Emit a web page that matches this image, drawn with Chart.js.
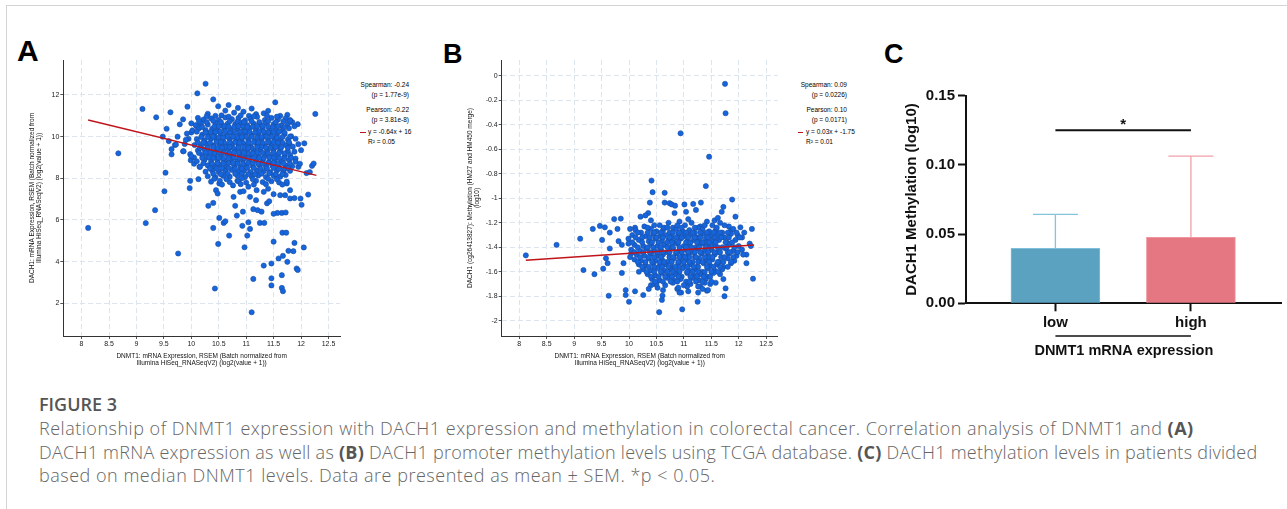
<!DOCTYPE html>
<html>
<head>
<meta charset="utf-8">
<script src="https://cdn.jsdelivr.net/npm/chart.js@4.4.1/dist/chart.umd.min.js"></script>
<style>
html, body { margin: 0; padding: 0; background: #fff; }
body { width: 1287px; height: 509px; position: relative; overflow: hidden; font-family: "Liberation Sans", Arial, sans-serif; }
#frame { position: absolute; left: 6px; top: 5px; width: 1400px; height: 600px; border: 1.5px solid #d4d4d4; }
canvas { position: absolute; }
.lbl { position: absolute; font-weight: bold; color: #000; }
.st { position: absolute; font-size: 6.5px; color: #000; white-space: nowrap; line-height: 1; transform: translateY(-50%); }
.st.r { transform: translate(-100%, -50%); }
.dash { position: absolute; height: 1.3px; background: #c0141b; }
.cap { position: absolute; left: 39px; font-family: "Open Sans", sans-serif; white-space: nowrap; font-size: 18px; line-height: 23.5px; }
.cap span { display: block; }
.cap b { font-weight: 700; color: #555; }
</style>
</head>
<body>
<div id="frame"></div>

<div class="lbl" style="left:17px;top:36px;font-size:30px;line-height:30px;">A</div>
<div class="lbl" style="left:443px;top:40.5px;font-size:27px;line-height:27px;">B</div>
<div class="lbl" style="left:884px;top:40.5px;font-size:27px;line-height:27px;">C</div>

<canvas id="chartA" width="350" height="325" style="left:0px;top:50px;"></canvas>
<canvas id="chartB" width="350" height="325" style="left:440px;top:50px;"></canvas>
<canvas id="chartC" width="407" height="310" style="left:880px;top:60px;"></canvas>

<!-- stats, panel A -->
<div class="st r" style="left:409px;top:85px;">Spearman: -0.24</div>
<div class="st r" style="left:409px;top:95px;">(p = 1.77e-9)</div>
<div class="st r" style="left:409px;top:110px;">Pearson: -0.22</div>
<div class="st r" style="left:409px;top:120px;">(p = 3.81e-8)</div>
<div class="dash" style="left:360px;top:131.5px;width:6px;"></div>
<div class="st" style="left:368px;top:132px;">y = -0.64x + 16</div>
<div class="st" style="left:368px;top:142px;">R² = 0.05</div>

<!-- stats, panel B -->
<div class="st r" style="left:847px;top:85px;">Spearman: 0.09</div>
<div class="st r" style="left:847px;top:95px;">(p = 0.0226)</div>
<div class="st r" style="left:847px;top:110px;">Pearson: 0.10</div>
<div class="st r" style="left:847px;top:120px;">(p = 0.0171)</div>
<div class="dash" style="left:798px;top:131.5px;width:5px;"></div>
<div class="st" style="left:806px;top:132px;">y = 0.03x + -1.75</div>
<div class="st" style="left:806px;top:142px;">R² = 0.01</div>

<div class="cap" style="top:392.6px;font-weight:600;color:#555;">FIGURE 3</div>
<div class="cap" style="top:417px;color:#666;font-weight:300;">
<span style="letter-spacing:0.51px;">Relationship of DNMT1 expression with DACH1 expression and methylation in colorectal cancer. Correlation analysis of DNMT1 and <b>(A)</b></span>
<span style="letter-spacing:0.25px;">DACH1 mRNA expression as well as <b>(B)</b> DACH1 promoter methylation levels using TCGA database. <b>(C)</b> DACH1 methylation levels in patients divided</span>
<span style="letter-spacing:0.52px;">based on median DNMT1 levels. Data are presented as mean ± SEM. *p &lt; 0.05.</span>
</div>

<script>
/* ==========================
   DATA
========================== */
const xTicks = [8, 8.5, 9, 9.5, 10, 10.5, 11, 11.5, 12, 12.5];
const aYTicks = [2, 4, 6, 8, 10, 12];
const bYTicks = [0, -0.2, -0.4, -0.6, -0.8, -1, -1.2, -1.4, -1.6, -1.8, -2];

// panel A: DNMT1 (x) vs DACH1 mRNA (y)
const pointsA = [
  [8.12,5.62],[8.67,9.2],[9.11,11.33],[9.17,5.85],[9.36,10.93],[9.34,6.47],[9.48,10.0],[9.51,7.38],[9.53,8.27],[9.55,10.38],
  [9.62,11.17],[9.59,9.79],[9.64,9.4],[9.64,9.15],[9.76,4.39],[9.79,10.59],[9.85,10.83],[9.93,11.44],[9.98,9.16],[9.99,8.87],
  [9.98,7.88],[9.97,7.53],[10.0,10.64],[10.11,12.08],[10.13,7.96],[10.26,12.54],[10.31,6.68],[10.40,11.79],[10.40,6.82],[10.40,5.62],
  [10.43,2.71],[10.49,4.85],[10.51,6.1],[10.59,5.86],[10.62,5.94],[10.69,5.25],[10.51,7.75],[10.49,11.46],[10.68,11.52],[10.80,6.68],
  [10.83,6.21],[10.93,5.72],[10.97,4.69],[11.04,5.89],[11.07,5.57],[11.02,5.25],[11.10,1.57],[11.13,3.17],[11.25,5.86],[11.33,5.86],
  [11.32,3.81],[11.46,3.2],[11.46,2.86],[11.46,3.91],[11.50,4.96],[11.59,4.15],[11.65,3.35],[11.65,2.74],[11.67,2.58],[11.67,4.28],
  [11.66,5.39],[11.73,5.39],[11.75,3.99],[11.77,4.52],[11.88,4.9],[11.86,4.5],[11.92,3.67],[11.94,3.6],[12.05,4.68],[12.01,6.73],
  [11.99,7.03],[12.13,7.22],[12.20,8.6],[12.23,8.71],[12.26,11.09],[11.53,11.65],[11.94,10.6],[12.06,9.68],[11.95,9.64],[11.79,9.64],
  [11.95,8.55],[11.8,7.03],[11.88,7.05],[11.65,6.34],[11.72,6.36],[11.57,6.34],[11.5,6.3],[11.13,6.52],[11.21,6.47],[11.28,6.4],
  [10.94,6.4],[11.38,6.8],[11.42,6.9],[10.89,7.35],[10.95,7.38],[11.04,7.6],[11.19,7.43],[11.32,7.35],[11.4,7.5],[11.5,7.24],
  [11.62,7.19],[11.71,7.19],[11.8,7.43],[11.74,7.75],[11.07,7.11],[11.18,6.95],[10.77,7.11],[10.45,7.43],[10.48,7.27],[10.76,7.66],
  [10.84,7.88],[11.9,8.95],[11.98,8.7],[12.0,9.35],[11.8,10.8],[12.1,8.25],[12.16,8.3],[9.7,9.6],[9.85,9.3],[10.05,9.0],
  [9.95,9.9],[10.0,10.2],[9.75,10.0],[10.1,10.5],[10.15,8.55],[9.88,9.65],[10.05,8.7],
  [10.3,11.1],[10.55,11.02],[10.62,11.25],[10.78,11.15],[10.95,11.2],[11.05,11.0],[11.18,11.08],[11.32,11.12],[11.4,11.24],[11.62,11.0],
  [11.75,11.05],[10.85,11.38],[11.1,11.35],
  [10.12,10.9],[10.22,10.82],[10.36,10.88],[10.5,10.8],[10.62,10.92],[10.74,10.84],[10.86,10.9],[10.98,10.78],[11.08,10.86],[11.2,10.95],
  [11.34,10.8],[11.46,10.9],[11.58,10.82],[11.72,10.88],[11.84,10.7],
  [10.08,10.55],[10.18,10.64],[10.3,10.58],[10.44,10.66],[10.56,10.56],[10.66,10.62],[10.8,10.6],[10.9,10.68],[11.02,10.55],[11.14,10.62],
  [11.26,10.58],[11.36,10.66],[11.5,10.6],[11.64,10.54],[11.76,10.62],[11.88,10.5],
  [10.02,10.3],[10.14,10.4],[10.26,10.32],[10.38,10.38],[10.48,10.3],[10.6,10.4],[10.72,10.34],[10.84,10.38],[10.96,10.3],[11.06,10.4],
  [11.18,10.34],[11.3,10.4],[11.42,10.3],[11.54,10.36],[11.66,10.3],[11.78,10.4],
  [9.92,10.15],[10.2,10.1],[10.32,10.16],[10.42,10.06],[10.54,10.12],[10.64,10.04],[10.76,10.14],[10.88,10.08],[10.98,10.16],[11.1,10.06],
  [11.22,10.12],[11.34,10.04],[11.44,10.14],[11.56,10.08],[11.7,10.12],[11.82,10.02],
  [9.9,9.85],[10.1,9.88],[10.24,9.82],[10.36,9.9],[10.46,9.84],[10.58,9.8],[10.7,9.88],[10.82,9.82],[10.92,9.9],[11.04,9.84],
  [11.16,9.8],[11.28,9.88],[11.4,9.82],[11.52,9.9],[11.62,9.84],[11.76,9.86],[11.9,9.9],
  [9.72,9.62],[10.06,9.6],[10.18,9.56],[10.28,9.64],[10.4,9.58],[10.52,9.62],[10.64,9.56],[10.74,9.64],[10.86,9.58],[10.98,9.6],
  [11.08,9.54],[11.2,9.62],[11.32,9.58],[11.46,9.64],[11.58,9.56],[11.72,9.6],[11.85,9.52],
  [9.86,9.3],[10.12,9.34],[10.24,9.38],[10.34,9.3],[10.46,9.36],[10.58,9.32],[10.68,9.4],[10.8,9.34],[10.92,9.3],[11.02,9.38],
  [11.14,9.32],[11.26,9.36],[11.38,9.3],[11.5,9.38],[11.62,9.34],[11.76,9.3],[11.88,9.28],
  [10.0,9.06],[10.2,9.12],[10.3,9.04],[10.42,9.1],[10.54,9.06],[10.66,9.14],[10.76,9.08],[10.88,9.12],[10.98,9.04],[11.1,9.1],
  [11.22,9.06],[11.34,9.12],[11.44,9.04],[11.56,9.1],[11.7,9.06],[11.8,9.12],
  [10.1,8.82],[10.24,8.88],[10.36,8.8],[10.48,8.86],[10.6,8.84],[10.72,8.9],[10.84,8.82],[10.94,8.86],[11.06,8.8],[11.18,8.88],
  [11.3,8.84],[11.42,8.78],[11.52,8.86],[11.64,8.82],[11.78,8.88],[11.9,8.8],
  [10.16,8.56],[10.3,8.62],[10.42,8.58],[10.52,8.64],[10.64,8.56],[10.78,8.6],[10.9,8.54],[11.0,8.62],[11.12,8.58],[11.24,8.64],
  [11.36,8.56],[11.48,8.6],[11.6,8.54],[11.72,8.62],[11.84,8.58],
  [10.26,8.32],[10.38,8.38],[10.5,8.3],[10.62,8.36],[10.74,8.4],[10.86,8.32],[10.96,8.36],[11.08,8.3],[11.2,8.38],[11.32,8.34],
  [11.44,8.3],[11.56,8.38],[11.68,8.32],[11.8,8.36],
  [10.3,8.1],[10.44,8.06],[10.58,8.12],[10.7,8.08],[10.84,8.14],[10.98,8.06],[11.1,8.1],[11.22,8.14],[11.36,8.06],[11.5,8.12],
  [11.62,8.08],[11.72,8.16],
  [10.36,7.84],[10.52,7.88],[10.7,7.82],[10.86,7.86],[11.0,7.8],[11.18,7.88],[11.3,7.82],[11.46,7.86],[11.6,7.8],[11.74,7.84],
  [10.42,10.48],[10.6,10.5],[10.78,10.46],[10.94,10.5],[11.12,10.48],[11.3,10.52],[11.48,10.46],
  [10.35,10.22],[10.52,10.24],[10.7,10.2],[10.9,10.24],[11.06,10.22],[11.24,10.26],[11.4,10.2],[11.6,10.24],
  [10.3,9.98],[10.5,9.96],[10.66,10.0],[10.84,9.96],[11.0,10.0],[11.2,9.96],[11.36,10.0],[11.56,9.96],
  [10.22,9.72],[10.46,9.74],[10.6,9.7],[10.8,9.74],[10.94,9.7],[11.14,9.74],[11.3,9.7],[11.5,9.74],[11.66,9.72],
  [10.3,9.48],[10.48,9.46],[10.62,9.5],[10.76,9.46],[10.96,9.5],[11.1,9.46],[11.28,9.5],[11.44,9.46],[11.64,9.48],
  [10.34,9.22],[10.5,9.24],[10.7,9.2],[10.86,9.24],[11.04,9.2],[11.2,9.24],[11.4,9.2],[11.6,9.22],
  [10.4,8.98],[10.58,8.96],[10.78,9.0],[10.96,8.96],[11.14,9.0],[11.32,8.96],[11.5,9.0],[11.7,8.96],
  [10.48,8.72],[10.68,8.74],[10.84,8.7],[11.04,8.74],[11.22,8.7],[11.4,8.74],[11.58,8.7],
  [10.56,8.48],[10.8,8.46],[11.02,8.5],[11.26,8.46],[11.5,8.5],[11.7,8.46],
  [10.66,8.22],[10.92,8.24],[11.16,8.2],[11.42,8.24],[11.66,8.2],
  [10.28,10.98],[10.44,11.0],[10.68,10.96],[10.9,11.02],[11.14,10.98],[11.38,11.0],[11.56,10.96],
  [10.14,10.74],[10.28,10.7],[10.4,10.76],[10.54,10.7],[10.7,10.74],[10.84,10.72],[10.96,10.7],[11.1,10.74],[11.24,10.7],[11.4,10.74],
  [11.54,10.7],[11.68,10.74],[11.8,10.76],
  [10.2,10.46],[10.5,10.5],[10.68,10.48],[10.86,10.5],[11.02,10.46],[11.2,10.5],[11.4,10.48],[11.58,10.5],[11.7,10.46],
  [10.1,10.24],[10.26,10.2],[10.44,10.22],[10.62,10.26],[10.8,10.2],[10.98,10.24],[11.16,10.2],[11.32,10.24],[11.5,10.22],[11.7,10.2],
  [10.18,9.98],[10.4,10.0],[10.58,9.96],[10.76,10.0],[10.92,9.98],[11.1,10.0],[11.28,9.98],[11.46,10.0],[11.66,9.98],[11.8,10.0],
  [10.12,9.72],[10.34,9.7],[10.54,9.74],[10.7,9.72],[10.88,9.7],[11.04,9.72],[11.22,9.7],[11.4,9.72],[11.58,9.7],[11.78,9.74],
  [10.16,9.46],[10.4,9.5],[10.56,9.48],[10.7,9.5],[10.86,9.48],[11.04,9.46],[11.2,9.5],[11.36,9.48],[11.54,9.5],[11.76,9.46],
  [10.14,9.22],[10.26,9.24],[10.42,9.2],[10.6,9.22],[10.78,9.24],[10.96,9.22],[11.12,9.2],[11.3,9.22],[11.5,9.24],[11.7,9.2],
  [10.2,8.98],[10.32,9.0],[10.5,8.98],[10.68,8.96],[10.88,8.98],[11.04,8.96],[11.24,8.98],[11.42,9.0],[11.6,8.98],[11.82,8.98],
  [10.22,8.72],[10.38,8.7],[10.58,8.72],[10.76,8.74],[10.94,8.7],[11.12,8.72],[11.3,8.7],[11.5,8.74],[11.68,8.72],[11.8,8.7],
  [10.34,8.48],[10.46,8.46],[10.68,8.5],[10.92,8.46],[11.14,8.5],[11.38,8.48],[11.6,8.46],[11.76,8.5],
  [10.4,8.22],[10.54,8.2],[10.8,8.22],[11.04,8.2],[11.28,8.22],[11.54,8.2],
  [10.42,7.98],[10.64,7.96],[10.92,8.0],[11.12,7.96],[11.4,7.98],[11.56,7.96],
  [10.56,7.7],[10.9,7.72],[11.14,7.7],[11.36,7.72],[11.66,7.7]
];
const fitAX = [8.12, 12.28];
const fitAY = [10.8, 8.14];

// panel B: DNMT1 (x) vs DACH1 methylation (y)
const pointsB = [
  [8.12,-1.466],[8.68,-1.38],[9.11,-1.33],[9.17,-1.586],[9.34,-1.25],[9.37,-1.62],[9.47,-1.226],[9.51,-1.34],[9.56,-1.237],[9.53,-1.575],
  [9.58,-1.49],[9.61,-1.53],[9.63,-1.796],[9.65,-1.28],[9.65,-1.41],[9.73,-1.17],[9.79,-1.25],[9.81,-1.35],[9.85,-1.166],[9.87,-1.61],
  [9.87,-1.38],[9.9,-1.53],[9.94,-1.79],[9.94,-1.75],[10.0,-1.845],[10.02,-1.25],[9.99,-1.33],[9.99,-1.37],[10.11,-1.24],[10.11,-1.76],
  [10.21,-1.15],[10.26,-1.79],[10.35,-1.12],[10.38,-1.035],[10.41,-0.855],[10.43,-0.95],[10.40,-1.71],[10.55,-1.93],[10.60,-1.83],[10.61,-1.795],
  [10.65,-0.955],[10.65,-1.035],[10.74,-1.04],[10.78,-1.05],[10.84,-1.06],[10.83,-1.12],[10.94,-0.469],[10.97,-1.907],[10.95,-1.77],[10.92,-1.77],
  [11.01,-1.05],[11.04,-1.11],[11.17,-1.046],[11.22,-1.095],[11.25,-1.845],[11.26,-1.77],[11.31,-1.035],[11.42,-1.755],[11.40,-0.9],[11.46,-0.66],
  [11.75,-0.065],[11.76,-0.305],[11.72,-1.07],[11.69,-1.11],[11.74,-1.80],[11.76,-1.736],[11.72,-1.66],[11.88,-1.01],[11.94,-1.15],[12.03,-1.237],
  [12.14,-1.53],[12.14,-1.46],[12.20,-1.37],[12.24,-1.25],[12.26,-1.657],[12.22,-1.39],[10.3,-1.14],[10.46,-1.7],[10.52,-1.73],[10.18,-1.6],
  [10.04,-1.45],[10.02,-1.48],[11.56,-1.18],[11.62,-1.16],[11.86,-1.26],[11.98,-1.3],[12.06,-1.32],[12.1,-1.28],[12.08,-1.46],[11.3,-1.72],
  [11.48,-1.7],[11.58,-1.69],[11.66,-1.62],[11.06,-1.72],[10.88,-1.74],
  [10.4,-1.18],[10.56,-1.22],[10.72,-1.2],[10.8,-1.24],[10.92,-1.19],[11.02,-1.22],[11.14,-1.2],[11.3,-1.23],[11.42,-1.19],[11.52,-1.22],
  [11.66,-1.2],[11.82,-1.23],[10.28,-1.23],[11.08,-1.17],
  [10.12,-1.26],[10.22,-1.28],[10.4,-1.25],[10.5,-1.27],[10.62,-1.26],[10.74,-1.28],[10.86,-1.25],[10.98,-1.27],[11.1,-1.26],[11.2,-1.28],
  [11.34,-1.25],[11.46,-1.27],[11.58,-1.26],[11.7,-1.28],[11.9,-1.25],
  [10.06,-1.3],[10.3,-1.31],[10.44,-1.29],[10.56,-1.31],[10.66,-1.3],[10.78,-1.32],[10.9,-1.29],[11.0,-1.31],[11.12,-1.3],[11.24,-1.32],
  [11.36,-1.29],[11.48,-1.31],[11.6,-1.3],[11.74,-1.32],[11.86,-1.29],
  [10.18,-1.34],[10.36,-1.35],[10.48,-1.33],[10.6,-1.35],[10.72,-1.34],[10.82,-1.36],[10.94,-1.33],[11.06,-1.35],[11.18,-1.34],[11.28,-1.36],
  [11.4,-1.33],[11.52,-1.35],[11.64,-1.34],[11.78,-1.36],[11.94,-1.34],
  [10.1,-1.38],[10.26,-1.39],[10.4,-1.37],[10.52,-1.39],[10.64,-1.38],[10.76,-1.4],[10.88,-1.37],[11.0,-1.39],[11.1,-1.38],[11.22,-1.4],
  [11.34,-1.37],[11.46,-1.39],[11.56,-1.38],[11.7,-1.4],[11.84,-1.37],[12.0,-1.39],
  [10.04,-1.42],[10.2,-1.43],[10.32,-1.41],[10.46,-1.43],[10.58,-1.42],[10.7,-1.44],[10.8,-1.41],[10.92,-1.43],[11.04,-1.42],[11.16,-1.44],
  [11.26,-1.41],[11.38,-1.43],[11.5,-1.42],[11.62,-1.44],[11.76,-1.41],[11.9,-1.43],[12.06,-1.42],
  [10.14,-1.46],[10.28,-1.47],[10.4,-1.45],[10.52,-1.47],[10.62,-1.46],[10.74,-1.48],[10.86,-1.45],[10.98,-1.47],[11.08,-1.46],[11.2,-1.48],
  [11.32,-1.45],[11.44,-1.47],[11.56,-1.46],[11.68,-1.48],[11.82,-1.45],[11.96,-1.47],
  [10.1,-1.5],[10.22,-1.51],[10.36,-1.49],[10.48,-1.51],[10.6,-1.5],[10.7,-1.52],[10.82,-1.49],[10.94,-1.51],[11.04,-1.5],[11.16,-1.52],
  [11.28,-1.49],[11.4,-1.51],[11.52,-1.5],[11.64,-1.52],[11.8,-1.49],[11.92,-1.51],
  [10.18,-1.54],[10.3,-1.55],[10.44,-1.53],[10.56,-1.55],[10.66,-1.54],[10.78,-1.56],[10.9,-1.53],[11.0,-1.55],[11.12,-1.54],[11.24,-1.56],
  [11.36,-1.53],[11.48,-1.55],[11.6,-1.54],[11.72,-1.56],[11.86,-1.53],
  [10.26,-1.58],[10.4,-1.59],[10.52,-1.57],[10.64,-1.59],[10.76,-1.58],[10.86,-1.6],[10.98,-1.57],[11.1,-1.59],[11.2,-1.58],[11.32,-1.6],
  [11.44,-1.57],[11.56,-1.59],[11.7,-1.58],
  [10.34,-1.62],[10.48,-1.63],[10.6,-1.61],[10.72,-1.63],[10.84,-1.62],[10.96,-1.64],[11.06,-1.61],[11.18,-1.63],[11.3,-1.62],[11.42,-1.64],
  [11.54,-1.61],
  [10.42,-1.66],[10.56,-1.67],[10.7,-1.65],[10.82,-1.67],[10.94,-1.66],[11.04,-1.68],[11.16,-1.65],[11.28,-1.67],[11.4,-1.66],[11.5,-1.68],
  [10.5,-1.7],[10.66,-1.71],[10.8,-1.69],[11.0,-1.71],[11.12,-1.7],[11.26,-1.72],[11.38,-1.69],
  [10.36,-1.74],[10.62,-1.75],[10.9,-1.73],[11.08,-1.76],[11.34,-1.74],[11.44,-1.75],
  [10.5,-1.32],[10.7,-1.36],[10.86,-1.32],[11.04,-1.36],[11.2,-1.32],[11.4,-1.36],[11.56,-1.32],[10.44,-1.4],[10.62,-1.44],[10.8,-1.4],
  [10.96,-1.44],[11.14,-1.4],[11.3,-1.44],[11.5,-1.4],[11.66,-1.44],[10.36,-1.48],[10.56,-1.52],[10.74,-1.48],[10.9,-1.52],[11.1,-1.48],
  [11.26,-1.52],[11.46,-1.48],[11.62,-1.52],[10.46,-1.56],[10.7,-1.6],[10.9,-1.56],[11.06,-1.6],[11.26,-1.56],[11.5,-1.6],[10.64,-1.24],
  [10.96,-1.24],[11.26,-1.24],[11.76,-1.36],[11.8,-1.44],
  [10.34,-1.24],[10.46,-1.22],[10.7,-1.24],[10.88,-1.22],[11.2,-1.24],[11.38,-1.22],[11.6,-1.24],[11.74,-1.22],
  [10.16,-1.28],[10.34,-1.28],[10.46,-1.28],[10.58,-1.28],[10.8,-1.28],[10.92,-1.28],[11.04,-1.28],[11.16,-1.28],[11.3,-1.28],[11.42,-1.28],
  [11.54,-1.28],[11.66,-1.28],[11.8,-1.28],[11.96,-1.28],
  [10.12,-1.32],[10.24,-1.32],[10.38,-1.32],[10.62,-1.32],[10.74,-1.32],[10.96,-1.32],[11.08,-1.32],[11.3,-1.32],[11.44,-1.32],[11.68,-1.32],
  [11.82,-1.32],[12.02,-1.32],
  [10.06,-1.36],[10.24,-1.36],[10.42,-1.36],[10.54,-1.36],[10.78,-1.36],[10.9,-1.36],[11.12,-1.36],[11.24,-1.36],[11.34,-1.36],[11.46,-1.36],
  [11.58,-1.36],[11.88,-1.36],
  [10.16,-1.4],[10.34,-1.4],[10.58,-1.4],[10.7,-1.4],[10.92,-1.4],[11.04,-1.4],[11.28,-1.4],[11.4,-1.4],[11.62,-1.4],[11.78,-1.4],[11.92,-1.4],
  [10.1,-1.44],[10.26,-1.44],[10.38,-1.44],[10.52,-1.44],[10.74,-1.44],[10.86,-1.44],[11.08,-1.44],[11.2,-1.44],[11.44,-1.44],[11.56,-1.44],
  [11.84,-1.44],[11.98,-1.44],
  [10.2,-1.48],[10.46,-1.48],[10.58,-1.48],[10.8,-1.48],[10.92,-1.48],[11.02,-1.48],[11.22,-1.48],[11.38,-1.48],[11.52,-1.48],[11.74,-1.48],[11.9,-1.48],
  [10.16,-1.52],[10.3,-1.52],[10.42,-1.52],[10.64,-1.52],[10.78,-1.52],[11.0,-1.52],[11.1,-1.52],[11.34,-1.52],[11.46,-1.52],[11.72,-1.52],[11.86,-1.52],
  [10.24,-1.56],[10.36,-1.56],[10.6,-1.56],[10.72,-1.56],[10.84,-1.56],[11.06,-1.56],[11.18,-1.56],[11.42,-1.56],[11.54,-1.56],[11.66,-1.56],[11.8,-1.56],
  [10.32,-1.6],[10.46,-1.6],[10.58,-1.6],[10.8,-1.6],[10.92,-1.6],[11.16,-1.6],[11.26,-1.6],[11.38,-1.6],[11.62,-1.6],
  [10.4,-1.64],[10.54,-1.64],[10.66,-1.64],[10.78,-1.64],[10.9,-1.64],[11.12,-1.64],[11.24,-1.64],[11.36,-1.64],[11.48,-1.64],
  [10.48,-1.68],[10.62,-1.68],[10.76,-1.68],[10.88,-1.68],[11.1,-1.68],[11.22,-1.68],[11.34,-1.68]
];
const fitBX = [8.12, 12.28];
const fitBY = [-1.506, -1.382];

// panel C: DACH1 methylation by DNMT1 group
const cCategories = ["low", "high"];
const cMeans = [0.0397, 0.0477];
const cSem = [0.0246, 0.0587];
const cYTicks = [0, 0.05, 0.10, 0.15];
const cSigLevel = 0.125;

/* ==========================
   HELPERS
========================== */
Chart.defaults.font.family = '"Liberation Sans", Arial, sans-serif';

function toXY(xs, ys) {
    return xs.map((x, i) => ({ x: x, y: ys[i] }));
}

function scatterChart(id, points, fitX, fitY, yTicks, xMin, xMax, yMin, yMax, yTitle, yWidth, padRight, yTitlePad) {
    const tickFont = { size: 7 };
    const titleFont = { size: 6.5, lineHeight: "7px" };
    const gridStyle = { color: "#dce4ee", tickColor: "#555", tickLength: 3, drawTicks: true };
    const borderStyle = { display: true, color: "#333", width: 1, dash: [5, 3] };

    return new Chart(document.getElementById(id), {
        type: "scatter",
        data: {
            datasets: [
                {
                    data: toXY(fitX, fitY),
                    showLine: true,
                    borderColor: "#c0141b",
                    borderWidth: 1.4,
                    pointRadius: 0
                },
                {
                    data: points.map(p => ({ x: p[0], y: p[1] })),
                    pointRadius: 2.6,
                    pointBackgroundColor: "#1565de",
                    pointBorderColor: "#1b4d9e",
                    pointBorderWidth: 0.6
                }
            ]
        },
        options: {
            responsive: false,
            animation: false,
            devicePixelRatio: 1,
            layout: { padding: { top: 10, right: padRight, left: 0, bottom: 0 } },
            plugins: { legend: { display: false }, tooltip: { enabled: false } },
            scales: {
                x: {
                    type: "linear",
                    min: xMin,
                    max: xMax,
                    afterBuildTicks: s => { s.ticks = xTicks.map(v => ({ value: v })); },
                    afterFit: s => { s.height = 39; },
                    ticks: { callback: v => String(v), font: tickFont, color: "#222", padding: 1, maxRotation: 0, autoSkip: false },
                    grid: gridStyle,
                    border: borderStyle,
                    title: {
                        display: true,
                        text: ["DNMT1: mRNA Expression, RSEM (Batch normalized from", "Illumina HiSeq_RNASeqV2) (log2(value + 1))"],
                        font: titleFont,
                        color: "#111",
                        padding: { top: 0, bottom: 8.5 }
                    }
                },
                y: {
                    type: "linear",
                    min: yMin,
                    max: yMax,
                    afterBuildTicks: s => { s.ticks = yTicks.map(v => ({ value: v })); },
                    afterFit: s => { s.width = yWidth; },
                    ticks: { callback: v => String(v), font: tickFont, color: "#222", padding: 1, autoSkip: false },
                    grid: gridStyle,
                    border: borderStyle,
                    title: {
                        display: true,
                        text: yTitle,
                        font: titleFont,
                        color: "#111",
                        padding: { top: yTitlePad, bottom: 0 }
                    }
                }
            }
        }
    });
}

/* ==========================
   PANELS A + B
========================== */
scatterChart("chartA", pointsA, fitAX, fitAY, aYTicks, 7.667, 12.71, 0.43, 13.68,
    ["DACH1: mRNA Expression, RSEM (Batch normalized from", "Illumina HiSeq_RNASeqV2) (log2(value + 1))"],
    63.3, 10, 28.8);

scatterChart("chartB", pointsB, fitBX, fitBY, bYTicks, 7.68, 12.71, -2.125, 0.13,
    ["DACH1 (cg26413827): Methylation (HM27 and HM450 merge)", "(log10)"],
    61.7, 12.3, 26.5);

/* ==========================
   PANEL C
========================== */
const barFill = ["#5aa2c0", "#e57782"];
const barEdge = ["#7fbfdb", "#f0959e"];
const errColor = ["#86c3dc", "#f1a0a8"];

const cExtras = {
    id: "cExtras",
    afterDatasetsDraw(chart) {
        const { ctx, scales: { x, y } } = chart;
        ctx.save();
        // SEM whiskers (upper only)
        cMeans.forEach((m, i) => {
            const px = x.getPixelForValue(i);
            const base = y.getPixelForValue(m);
            const top = y.getPixelForValue(m + cSem[i]);
            ctx.strokeStyle = errColor[i];
            ctx.lineWidth = 1.3;
            ctx.beginPath();
            ctx.moveTo(px, base);
            ctx.lineTo(px, top);
            ctx.moveTo(px - 22.5, top);
            ctx.lineTo(px + 22.5, top);
            ctx.stroke();
        });
        const x0 = x.getPixelForValue(0);
        const x1 = x.getPixelForValue(cCategories.length - 1);
        // significance bar
        const sy = y.getPixelForValue(cSigLevel);
        ctx.strokeStyle = "#111";
        ctx.lineWidth = 2;
        ctx.beginPath();
        ctx.moveTo(x0, sy);
        ctx.lineTo(x1, sy);
        ctx.stroke();
        ctx.fillStyle = "#111";
        ctx.font = 'bold 15px "Liberation Sans", Arial, sans-serif';
        ctx.textAlign = "center";
        ctx.textBaseline = "alphabetic";
        ctx.fillText("*", (x0 + x1) / 2, sy - 1);
        // group bracket under the labels
        const by = y.bottom + 32.7;
        ctx.lineWidth = 1.7;
        ctx.beginPath();
        ctx.moveTo(x0, by);
        ctx.lineTo(x1, by);
        ctx.stroke();
        ctx.restore();
    }
};

new Chart(document.getElementById("chartC"), {
    type: "bar",
    data: {
        datasets: [{
            data: toXY(cCategories.map((c, i) => i), cMeans),
            backgroundColor: barFill,
            borderColor: barEdge,
            borderWidth: 1,
            barThickness: 89
        }]
    },
    options: {
        responsive: false,
        animation: false,
        devicePixelRatio: 1,
        layout: { padding: { top: 35.7, right: 5.3, left: 0, bottom: 0 } },
        plugins: { legend: { display: false }, tooltip: { enabled: false } },
        scales: {
            x: {
                type: "linear",
                min: -0.66,
                max: 1.67,
                offset: false,
                afterBuildTicks: s => { s.ticks = cCategories.map((c, i) => ({ value: i })); },
                afterFit: s => { s.height = 66.7; },
                ticks: {
                    callback: v => cCategories[v],
                    font: { size: 15, weight: "bold" },
                    color: "#111",
                    padding: 2.8,
                    maxRotation: 0,
                    autoSkip: false
                },
                grid: { offset: false, drawOnChartArea: false, drawTicks: true, tickLength: 8, tickColor: "#111", tickWidth: 2 },
                border: { display: true, color: "#111", width: 2 },
                title: {
                    display: true,
                    text: "DNMT1 mRNA expression",
                    font: { size: 14.5, weight: "bold" },
                    color: "#111",
                    padding: { top: 0, bottom: 10.5 }
                }
            },
            y: {
                min: 0,
                max: 0.15,
                afterBuildTicks: s => { s.ticks = cYTicks.map(v => ({ value: v })); },
                afterFit: s => { s.width = 86; },
                ticks: {
                    callback: v => v.toFixed(2),
                    font: { size: 15, weight: "bold" },
                    color: "#111",
                    padding: 3
                },
                grid: { drawOnChartArea: false, drawTicks: true, tickLength: 8, tickColor: "#111", tickWidth: 2 },
                border: { display: true, color: "#111", width: 2 },
                title: {
                    display: true,
                    text: "DACH1 Methylation (log10)",
                    font: { size: 15, weight: "bold" },
                    color: "#111",
                    padding: { top: 22.7, bottom: 0 }
                }
            }
        }
    },
    plugins: [cExtras]
});
</script>
</body>
</html>
